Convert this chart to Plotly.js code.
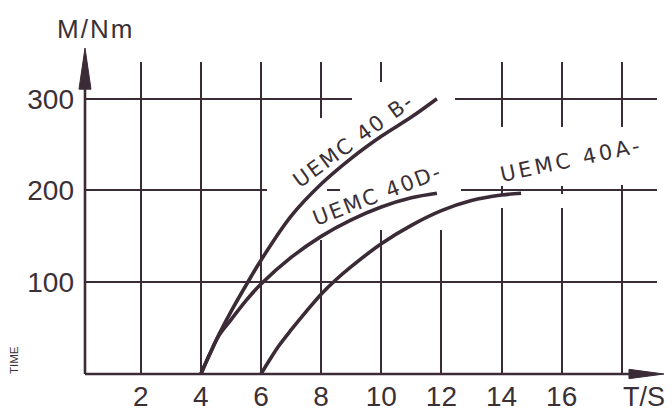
<!DOCTYPE html>
<html>
<head>
<meta charset="utf-8">
<script src="https://cdn.plot.ly/plotly-3.0.1.min.js"></script>
<style>html,body{margin:0;padding:0;background:#fff;}#chart{width:672px;height:411px;}</style>
</head>
<body>
<div id="chart"></div>
<script>
// ---- data ----
const xTickVals = [2, 4, 6, 8, 10, 12, 14, 16, 18];
const xTickText = ['2', '4', '6', '8', '10', '12', '14', '16', ''];
const yTickVals = [100, 200, 300];
const yTickText = ['100', '200', '300'];

const seriesNames = ['UEMC 40 B-', 'UEMC 40D-', 'UEMC 40A-'];
const bX = [4, 4.3, 4.6, 5, 5.56, 6, 7, 8, 9, 10, 11, 11.85];
const bY = [0, 22, 43, 68, 100, 124, 172, 207, 235, 259, 280, 300];
const dX = [4, 4.3, 4.6, 5, 5.5, 6, 7, 8, 9, 10, 11, 11.85];
const dY = [0, 22, 42, 59, 80, 98, 127, 150, 168, 182, 192, 197];
const aX = [6, 6.3, 6.6, 7, 7.5, 8, 8.5, 9, 10, 11, 12, 13, 14, 14.65];
const aY = [0, 16, 31, 48, 68, 87, 103, 117, 142, 162, 178, 189, 195, 197];

const ink = '#3b2b37';
const txt = '#3a3036';
const FONT = 'Liberation Sans, Arial, sans-serif';
const XR = [0.146, 19.17], YR = [0, 340];

function curve(x, y, name) {
  return {x: x, y: y, name: name, type: 'scatter', mode: 'lines',
    line: {color: ink, width: 3.6, shape: 'spline', smoothing: 1.0},
    hoverinfo: 'skip', showlegend: false};
}
const traces = [curve(bX, bY, seriesNames[0]), curve(dX, dY, seriesNames[1]), curve(aX, aY, seriesNames[2])];

function lbl(x, y, text, angle, sp) {
  return {x: x, y: y, xref: 'x', yref: 'y', showarrow: false,
    text: '<span style="letter-spacing:' + sp + 'px">' + text + '</span>',
    textangle: angle,
    font: {family: 'DejaVu Sans, sans-serif', size: 21, color: txt},
    xanchor: 'center', yanchor: 'middle'};
}

// white masks that open the grid where the drawing leaves it blank (pixel box -> axis units)
const PL = 85, PR = 657, PT = 62, PB = 374;
function px2x(p) { return XR[0] + (p - PL) / (PR - PL) * (XR[1] - XR[0]); }
function py2y(p) { return YR[0] + (PB - p) / (PB - PT) * (YR[1] - YR[0]); }
function mask(x0, y0, x1, y1) {
  return {type: 'rect', layer: 'between', xref: 'x', yref: 'y',
    x0: px2x(x0), x1: px2x(x1), y0: py2y(y1), y1: py2y(y0),
    fillcolor: '#ffffff', line: {width: 0}};
}

const layout = {
  width: 672, height: 411,
  margin: {l: PL, r: 672 - PR, t: PT, b: 411 - PB, pad: 0},
  paper_bgcolor: '#fff', plot_bgcolor: '#fff',
  showlegend: false,
  xaxis: {range: XR, tickvals: xTickVals, ticktext: xTickText,
    showgrid: true, gridcolor: ink, gridwidth: 2, zeroline: false, showline: false,
    ticks: '', ticklabelstandoff: 3,
    tickfont: {family: FONT, size: 28, color: txt}},
  yaxis: {range: YR, tickvals: yTickVals, ticktext: yTickText,
    showgrid: true, gridcolor: ink, gridwidth: 2, zeroline: false, showline: false,
    ticks: '', ticklabelstandoff: 10,
    tickfont: {family: FONT, size: 28, color: txt}},
  shapes: [
    mask(267, 184, 323, 194),
    mask(340, 184, 461, 194),
    mask(315, 118, 327, 240),
    mask(375, 82, 387, 230),
    mask(435, 58, 447, 230),
    mask(352, 94, 455, 104),
    mask(495, 127, 507, 186),
    mask(495, 194, 507, 208),
    mask(555, 127, 567, 186),
    mask(555, 194, 567, 208),
    mask(615, 127, 627, 185),
    {type: 'line', xref: 'paper', yref: 'paper', x0: 0, y0: 0, x1: 0.96, y1: 0, line: {color: ink, width: 2.6}},
    {type: 'line', xref: 'paper', yref: 'paper', x0: 0, y0: 0, x1: 0, y1: 0.93, line: {color: ink, width: 2.6}},
    {type: 'path', xref: 'paper', yref: 'paper', path: 'M 1.0122 0 L 0.951 0.015 L 0.951 -0.015 Z', fillcolor: ink, line: {color: ink, width: 1}},
    {type: 'path', xref: 'paper', yref: 'paper', path: 'M 0 1.0449 L -0.0105 0.913 L 0.0105 0.913 Z', fillcolor: ink, line: {color: ink, width: 1}}
  ],
  annotations: [
    lbl(9.06, 254, seriesNames[0], -36, 2),
    lbl(9.86, 195.6, seriesNames[1], -21, 2),
    lbl(16.32, 232.7, seriesNames[2], -12, 3.2),
    {x: 0.019, y: 1.107, xref: 'paper', yref: 'paper', showarrow: false,
      text: '<span style="letter-spacing:2px">M/Nm</span>',
      font: {family: FONT, size: 26, color: txt}, xanchor: 'center', yanchor: 'middle'},
    {x: 0.977, y: -0.075, xref: 'paper', yref: 'paper', showarrow: false, text: 'T/S',
      font: {family: FONT, size: 27, color: txt}, xanchor: 'center', yanchor: 'middle', borderpad: 0},
    {x: -0.125, y: 0.043, xref: 'paper', yref: 'paper', showarrow: false, text: 'TIME', textangle: -90,
      font: {family: FONT, size: 11.5, color: txt}, xanchor: 'center', yanchor: 'middle'}
  ]
};

Plotly.newPlot('chart', traces, layout, {staticPlot: true, displayModeBar: false});
</script>
</body>
</html>
